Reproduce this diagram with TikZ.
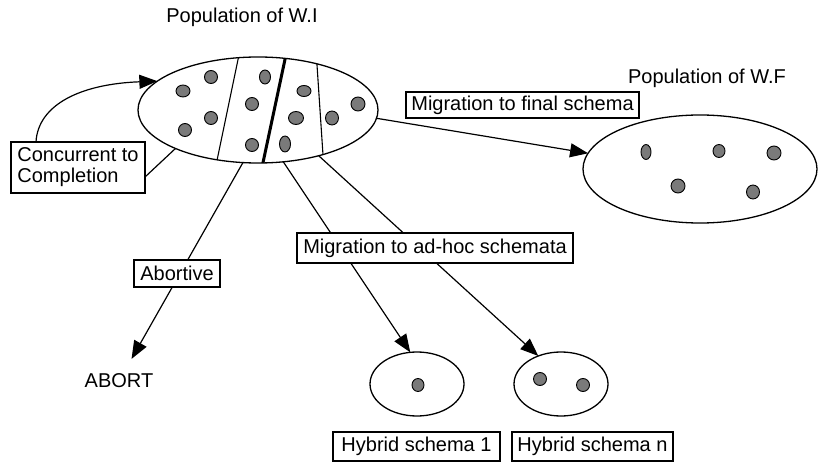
\documentclass[tikz,border=0pt]{standalone}
\usepackage{fontspec}
\setmainfont{Liberation Sans}
\usetikzlibrary{shapes.geometric,arrows.meta,calc}
\definecolor{seedgray}{RGB}{122,122,122}

\begin{document}
\begin{tikzpicture}[x=1pt,y=-1pt,
  every node/.style={font=\fontsize{20}{21}\selectfont},
  pool/.style={ellipse,draw,line width=1.3pt,inner sep=0pt,outer sep=0pt},
  tag/.style={draw,line width=1.5pt,fill=white,inner sep=0pt,outer sep=0pt,align=center},
  flow/.style={line width=1.2pt,-{Triangle[length=18pt,width=14pt]}},
  link/.style={line width=1.2pt},
  split/.style={line width=1.1pt},
  seed/.style={fill=seedgray,draw=black,line width=0.9pt}
]
\useasboundingbox (0,0) rectangle (818,462);

% populations
\node[pool,minimum width=240pt,minimum height=106pt] (WI) at (258,110) {};
\node[pool,minimum width=234pt,minimum height=108pt] (WF) at (700,169) {};
\node[pool,minimum width=94pt,minimum height=64pt] (H1) at (417,384) {};
\node[pool,minimum width=94pt,minimum height=64pt] (Hn) at (561,384) {};

\node (tWI) at (242,17) {Population of W.I};
\node (tWF) at (707,78) {Population of W.F};
\node[inner ysep=14.8pt] (abort) at (119,381) {ABORT};

% partitions of W.I
\begin{scope}
  \clip (WI.center) ellipse [x radius=120pt, y radius=53pt];
  \draw[split] (240,50) -- (215,170);
  \draw[split,line width=3pt] (287,50) -- (261,172);
  \draw[split] (316,50) -- (324,170);
\end{scope}

% instances
\path[seed] (183,91) ellipse [x radius=7pt, y radius=6pt];
\path[seed] (211,77) circle [radius=6.5pt];
\path[seed] (211,118) circle [radius=6.5pt];
\path[seed] (185,130) circle [radius=6.5pt];
\path[seed] (265,77) ellipse [x radius=5.5pt, y radius=7pt];
\path[seed] (252,104) circle [radius=6.5pt];
\path[seed] (252,145) circle [radius=6.5pt];
\path[seed] (304,91) ellipse [x radius=7pt, y radius=5.5pt];
\path[seed] (296,118) ellipse [x radius=7.5pt, y radius=6.5pt];
\path[seed] (285,144) ellipse [x radius=5.5pt, y radius=8pt];
\path[seed] (332,118) ellipse [x radius=6.5pt, y radius=7pt];
\path[seed] (358,104) circle [radius=7pt];

\path[seed] (646,152) ellipse [x radius=5pt, y radius=7.5pt];
\path[seed] (719,151) ellipse [x radius=6pt, y radius=6.5pt];
\path[seed] (774,153) circle [radius=7pt];
\path[seed] (678,186) circle [radius=7pt];
\path[seed] (753,192) ellipse [x radius=6.5pt, y radius=7pt];

\path[seed] (418,385) ellipse [x radius=6pt, y radius=6.5pt];
\path[seed] (540,379) circle [radius=6.5pt];
\path[seed] (583,385) circle [radius=6.5pt];

% label boxes
\node[tag,minimum width=134pt,minimum height=51pt,align=left] (cc) at (78,167.5) {Concurrent to\\Completion};

% transitions
\draw[flow] ($(cc.north west)+(25,0)$) .. controls (38,105) and (80,84) .. (WI.164.4);
\draw[link] (WI.-155.9) -- ($(cc.east)+(0,9.5)$);
\draw[flow] (WI.-4) -- (WF.172);
\draw[flow] (WI.-106.8) -- (abort);
\draw[flow] (WI.-64.3) -- (H1.102);
\draw[flow] (WI.-37.5) -- (Hn.129.4);

\node[tag,minimum width=233pt,minimum height=26pt] (mfinal) at (522.5,105) {Migration to final schema};
\node[tag,minimum width=86pt,minimum height=27pt] (abortive) at (177,273.5) {Abortive};
\node[tag,minimum width=276pt,minimum height=30pt] (madhoc) at (435,248) {Migration to ad-hoc schemata};
\node[tag,minimum width=167pt,minimum height=29pt] (h1name) at (416.5,446.5) {Hybrid schema 1};
\node[tag,minimum width=161pt,minimum height=29pt] (hnname) at (592.5,446.5) {Hybrid schema n};
\end{tikzpicture}
\end{document}
